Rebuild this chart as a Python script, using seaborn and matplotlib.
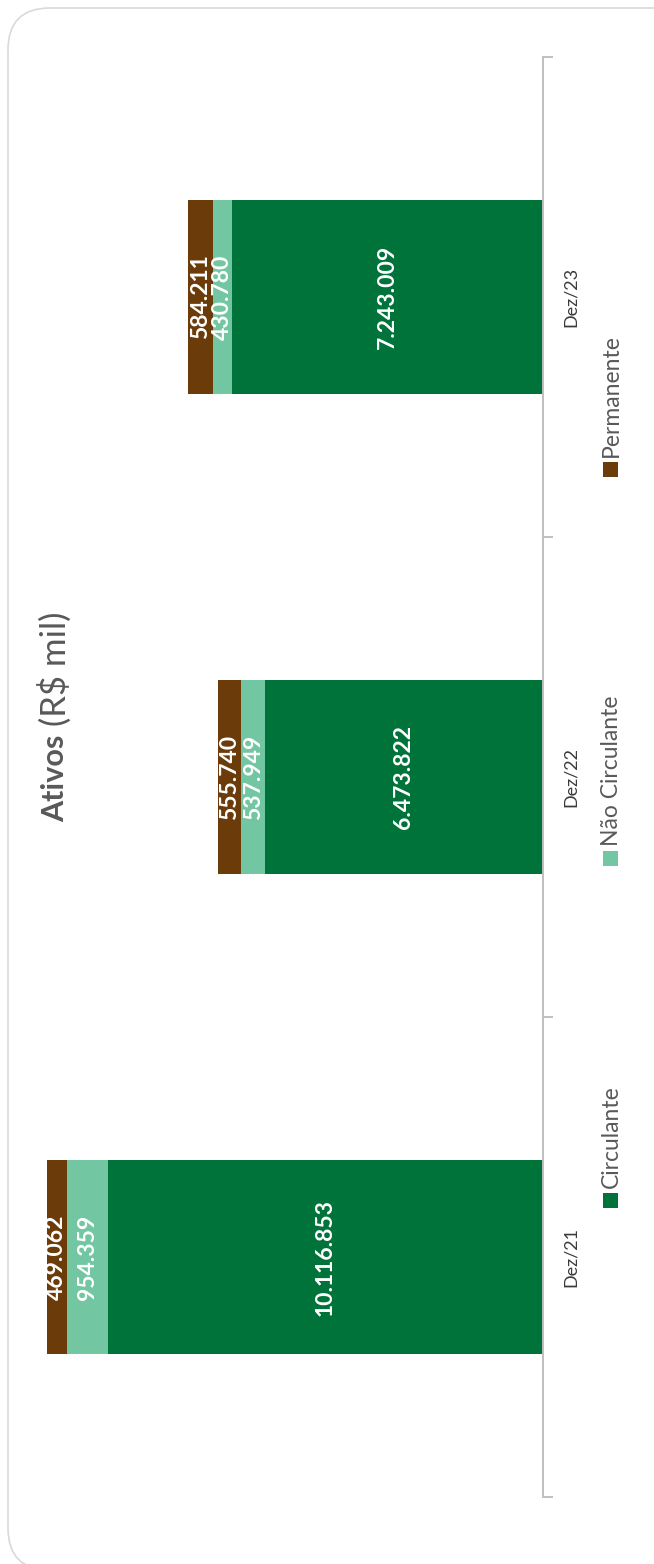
"""
Ativos (R$ mil) - stacked bars, drawn rotated 90 degrees like the source slide.
"""

import matplotlib
matplotlib.use("Agg")
import matplotlib.pyplot as plt
import matplotlib.patches as mpatches
from matplotlib.transforms import IdentityTransform
import pandas as pd
import seaborn as sns

# --- Data ---
periods = ["Dez/21", "Dez/22", "Dez/23"]
circulante = [10116853, 6473822, 7243009]
nao_circulante = [954359, 537949, 430780]
permanente = [469062, 555740, 584211]

series_names = ["Circulante", "Não Circulante", "Permanente"]
series_colors = ["#00733A", "#72C6A1", "#6B3C0A"]

W, H = 654, 1564


def fmt(v):
    return f"{v:,}".replace(",", ".")


sns.set_theme(style="white")
plt.rcParams["font.family"] = ["Lato", "DejaVu Sans"]

df = pd.DataFrame({
    "periodo": periods,
    "Circulante": circulante,
    "Não Circulante": nao_circulante,
    "Permanente": permanente,
})
# seaborn puts the first category on top, the slide has Dez/21 at the bottom
order = periods[::-1]
df = df.set_index("periodo").loc[order].reset_index()

fig = plt.figure(figsize=(W / 100, H / 100), dpi=100)
fig.patch.set_facecolor("white")
ax = fig.add_axes([27 / W, 1 - 1497 / H, (543 - 27) / W, 1440 / H])

# --- Stacked bars ---
left = [0] * len(df)
for name, color in zip(series_names, series_colors):
    sns.barplot(data=df, y="periodo", x=name, order=order, orient="y",
                color=color, saturation=1, width=0.404, errorbar=None,
                left=left, linewidth=0, ax=ax)
    cont = ax.containers[-1]
    ax.bar_label(cont, labels=[fmt(v) for v in df[name]], label_type="center",
                 rotation=90, color="white", fontweight="bold", fontsize=16.5)
    left = [a + b for a, b in zip(left, df[name])]

ax.set_xlim(12e6, 0)
ax.set_ylim(2.5, -0.5)
ax.set_xlabel("")
ax.set_ylabel("")
ax.set_xticks([])

for side in ["left", "top", "bottom"]:
    ax.spines[side].set_visible(False)
ax.spines["right"].set_color("#BFBFBF")
ax.spines["right"].set_linewidth(1.4)

# category axis on the right, ticks between the groups
ax.yaxis.tick_right()
ax.set_yticks([-0.5, 0.5, 1.5, 2.5])
ax.set_yticklabels([])
ax.set_yticks([0, 1, 2], labels=order, minor=True)
ax.tick_params(axis="y", which="major", length=7, width=1.4, color="#BFBFBF",
               direction="out")
ax.tick_params(axis="y", which="minor", length=0, pad=14, labelsize=13,
               labelcolor="#3A3A3A", labelrotation=90, labelright=True,
               labelleft=False)
for lab in ax.get_yticklabels(minor=True):
    lab.set_va("center")

# --- Title ---
t1 = fig.text(55 / W, 1 - 822 / H, "Ativos", rotation=90, ha="center",
              va="bottom", fontsize=22, fontweight="bold", color="#595959")
ax.annotate(" (R$ mil)", xy=(0.5, 1), xycoords=t1, rotation=90, ha="center",
            va="bottom", fontsize=25, color="#595959", annotation_clip=False)

# --- Legend (rotated, drawn by hand) ---
legend_pos = {"Circulante": 1208, "Não Circulante": 866, "Permanente": 477}
for name, color in zip(series_names, series_colors):
    y0 = legend_pos[name]
    fig.patches.append(mpatches.Rectangle(
        (603 / W, 1 - y0 / H), 15 / W, 15 / H, transform=fig.transFigure,
        facecolor=color, edgecolor="none"))
    fig.text(611 / W, 1 - (y0 - 20) / H, name, rotation=90, ha="center",
             va="bottom", fontsize=16.5, color="#595959")

# --- Rounded frame ---
fig.patches.append(mpatches.FancyBboxPatch(
    (8, -6), 700, 1562, boxstyle="round,pad=0,rounding_size=42",
    transform=IdentityTransform(), facecolor="none", edgecolor="#D9D9D9",
    linewidth=1.2))

fig.savefig("out.png", dpi=100)
plt.close(fig)
